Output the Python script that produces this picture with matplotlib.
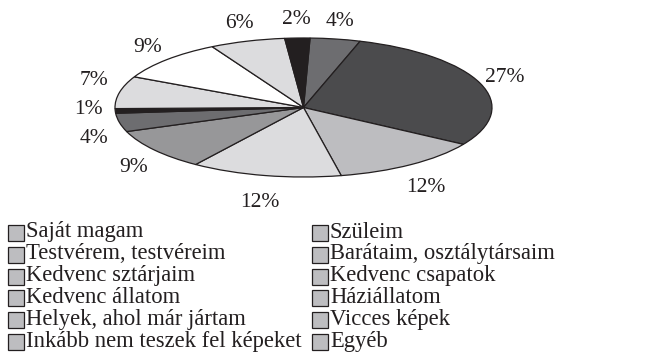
import numpy as np
import matplotlib
matplotlib.use("Agg")
import matplotlib.pyplot as plt
from matplotlib.patches import Rectangle

# slice shares in percent, clockwise from the top
shares = [4, 27, 12, 12, 9, 4, 1, 7, 9, 6, 2]
slice_colors = ["#6d6d70", "#4b4b4d", "#bdbdc0", "#dcdcde", "#979799", "#6d6d70",
                "#231f20", "#dcdcde", "#ffffff", "#dcdcde", "#231f20"]

# legend entries, read row by row (left column, right column)
legend_labels = [
    "Saját magam", "Szüleim",
    "Testvérem, testvéreim", "Barátaim, osztálytársaim",
    "Kedvenc sztárjaim", "Kedvenc csapatok",
    "Kedvenc állatom", "Háziállatom",
    "Helyek, ahol már jártam", "Vicces képek",
    "Inkább nem teszek fel képeket", "Egyéb",
]

plt.rcParams["font.family"] = ["Liberation Serif", "DejaVu Serif"]

W, H = 647, 356
fig = plt.figure(figsize=(W / 100, H / 100), dpi=100)

# flattened pie: an axes box the size of the ellipse, aspect left free
ax = fig.add_axes([115 / W, 1 - 177 / H, 377 / W, 139 / H])
wedges, _ = ax.pie(shares, colors=slice_colors, startangle=88, counterclock=False,
                   wedgeprops=dict(edgecolor="#231f20", linewidth=0.9))
ax.set_aspect("auto")
ax.set_xlim(-1, 1)
ax.set_ylim(-1, 1)
ax.axis("off")

# label spots just outside the rim
mids = np.array([np.deg2rad((w.theta1 + w.theta2) / 2) for w in wedges])
lx = 1.14 * np.cos(mids)
ly = np.sin(mids) * np.where(np.sin(mids) > 0, 1.26, 1.40)

# spread out the side labels that sit too close vertically
side = np.abs(np.cos(mids)) > 0.6
min_gap = 0.42
for _ in range(60):
    for i in range(len(lx)):
        for j in range(i + 1, len(lx)):
            if not (side[i] and side[j]) or np.sign(lx[i]) != np.sign(lx[j]):
                continue
            d = ly[i] - ly[j]
            if abs(d) < min_gap:
                push = (min_gap - abs(d)) / 2 * (1 if d >= 0 else -1)
                ly[i] += push
                ly[j] -= push

for x, y, s in zip(lx, ly, shares):
    ax.text(x, y, f"{s}%", ha="center", va="center", fontsize=15.5, color="#231f20")

# legend drawn by hand in two columns
col_x = [8, 312]
row_y0, row_step = 233, 21.8
box = 16
for i, label in enumerate(legend_labels):
    r, c = divmod(i, 2)
    x = col_x[c]
    yc = row_y0 + r * row_step
    fig.patches.append(Rectangle((x / W, 1 - (yc + box / 2) / H), box / W, box / H,
                                 transform=fig.transFigure, facecolor="#bdbdc0",
                                 edgecolor="#231f20", linewidth=0.9))
    fig.text((x + box + 2) / W, 1 - (yc - 1) / H, label, ha="left", va="center",
             fontsize=16.3, color="#231f20")

fig.savefig("out.png", dpi=100)
